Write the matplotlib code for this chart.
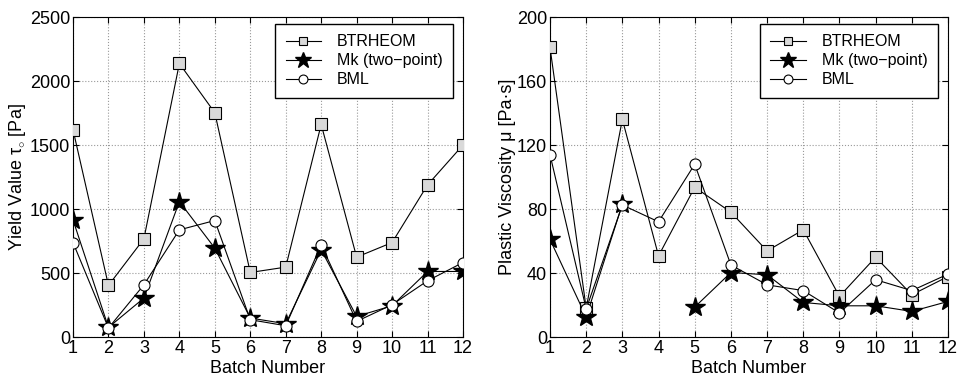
import numpy as np
import matplotlib
matplotlib.use('Agg')
import matplotlib.pyplot as plt

plt.rcParams['font.family'] = ['Liberation Sans', 'DejaVu Sans']
plt.rcParams['mathtext.fontset'] = 'custom'
plt.rcParams['mathtext.rm'] = 'Liberation Sans'
plt.rcParams['mathtext.it'] = 'Liberation Sans'

batch = np.arange(1, 13)

# yield value [Pa]
yield_btr = [1620, 403, 767, 2137, 1752, 504, 546, 1661, 624, 738, 1188, 1500]
yield_mk = [915, 75, 304, 1058, 694, 148, 104, 681, 161, 244, 512, 512]
yield_bml = [738, 70, 408, 837, 910, 135, 88, 720, 122, 252, 439, 582]

# plastic viscosity [Pa s]
visc_btr = [181, 18, 136, 50.7, 93.6, 78, 53.8, 67, 25.4, 49.9, 26.4, 37.8]
visc_mk = [61, 12.5, 83, np.nan, 18.7, 40.3, 38.9, 21.6, 19.5, 19.5, 16, 22.2]
visc_bml = [114, 17.5, 82.5, 72, 108, 45, 32.6, 29, 15, 35.8, 29, 39.3]

fig = plt.figure(figsize=(9.6, 3.79), dpi=100)
ax1 = fig.add_axes([73/960, 42/379, 390/960, 320/379])
ax2 = fig.add_axes([550/960, 42/379, 398/960, 320/379])


def draw(ax, btr, mk, bml, ylim, yticks, ylabel):
    ax.plot(batch, btr, '-', color='black', lw=0.8, marker='s', ms=8,
            mfc='#d9d9d9', mec='black', mew=0.8, label='BTRHEOM', zorder=3)
    ax.plot(batch, mk, '-', color='black', lw=0.8, marker='*', ms=15,
            mfc='black', mec='black', label='Mk (two\u2212point)', zorder=4)
    ax.plot(batch, bml, '-', color='black', lw=0.8, marker='o', ms=8,
            mfc='white', mec='black', mew=0.8, label='BML', zorder=5)
    ax.set_xlim(1, 12)
    ax.set_ylim(*ylim)
    ax.set_xticks(batch)
    ax.set_yticks(yticks)
    ax.tick_params(direction='in', labelsize=13, length=4, top=True, right=True,
                   labeltop=False, labelright=False, pad=2)
    ax.grid(True, ls=':', color='#999999', lw=0.8)
    ax.set_xlabel('Batch Number', fontsize=13, labelpad=2)
    ax.set_ylabel(ylabel, fontsize=13, labelpad=1)
    leg = ax.legend(loc='upper right', bbox_to_anchor=(0.974, 0.978), fontsize=11.5,
                    borderaxespad=0, fancybox=False, framealpha=1, edgecolor='black',
                    handlelength=2.2, handletextpad=1.0, borderpad=0.65,
                    labelspacing=0.25, markerscale=0.8)
    leg.get_frame().set_linewidth(1.0)
    for s in ax.spines.values():
        s.set_linewidth(0.8)


draw(ax1, yield_btr, yield_mk, yield_bml, (0, 2500), np.arange(0, 2501, 500),
     r'Yield Value $\tau_{\circ}$ [Pa]')
draw(ax2, visc_btr, visc_mk, visc_bml, (0, 200), np.arange(0, 201, 40),
     'Plastic Viscosity \u03bc [Pa\u00b7s]')

plt.savefig('out.png', dpi=100)
